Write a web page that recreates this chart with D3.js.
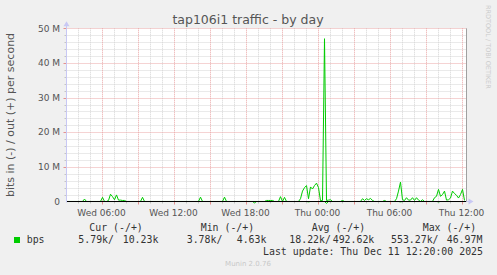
<!DOCTYPE html>
<html><head><meta charset="utf-8">
<script src="https://cdn.jsdelivr.net/npm/d3@7"></script>
<style>html,body{margin:0;padding:0;background:#f0f0f0;}svg{display:block;}</style>
</head><body><svg id="c" width="497" height="275"></svg>
<script>
// ---- data (values in Mbit/s, 10-minute steps starting Wed 2025-12-10 03:05) ----
const startTime = new Date(2025, 11, 10, 3, 5);
const endTime = new Date(2025, 11, 11, 12, 25);
const stepMinutes = 10;
const outValues = [
 0.01,0.01,0.01,0.01,0.01,0.01,0.01,0.01,0.01,0.7, 0.01,0.01,0.01,0.01,0.01,0.01,0.01,0.01,1.2,0.01,
 0.01,0.3,2.1,1.4,0.5,1.9,0.4,0.4,0.3,0.3, 0.01,0.01,0.01,0.01,0.01,0.01,0.01,0.01,1.2,0.01,
 0.01,0.01,0.01,0.01,0.01,0.01,0.01,0.01,0.01,0.01, 0.01,0.01,0.01,0.01,0.01,0.01,0.01,0.01,0.01,0.01,
 0.01,0.01,0.01,0.01,0.01,0.01,0.01,1.25,0.01,0.01, 0.01,0.01,0.01,0.01,0.01,0.01,0.01,0.01,0.01,1.25,
 0.01,0.01,0.01,0.01,0.01,0.01,0.01,0.01,0.01,0.01, 0.01,0.01,0.01,0.01,0.01,0.01,0.01,0.01,0.01,0.01,
 0.3,0.3,0.3,0.3,0.01,0.01,0.01,1.4,0.01,1.2, 0.01,0.01,0.01,0.01,0.01,0.01,0.01,0.8,3.0,4.0,
 4.6,0.8,4.2,3.6,4.6,5.3,4.0,0.2,0.3,47.0, 0.3,0.4,0.5,0.01,0.01,0.01,0.01,0.01,0.3,0.01,
 0.01,0.01,0.01,0.01,0.01,0.01,0.01,0.01,0.8,0.3, 0.8,0.5,0.9,0.3,0.01,0.01,0.01,0.01,0.01,0.3,
 0.01,0.01,0.01,0.01,0.01,0.8,3.0,5.6,0.5,0.3, 1.1,0.4,0.4,1.1,0.3,1.1,0.4,0.01,0.5,0.01,
 0.01,0.01,0.01,0.01,1.1,1.5,3.5,1.5,2.0,3.0, 0.4,0.5,1.0,3.0,2.3,1.8,1.0,2.0,3.5,0.3
];
const inBaseline = 0.005;
const inSpikeIndex = [94, 121, 130, 167, 186];
const inSpikeValue = [0.4, 0.1, 0.55, 0.1, 0.1];
const inValues = outValues.map((_, i) => {
  const k = inSpikeIndex.indexOf(i);
  return k >= 0 ? inSpikeValue[k] : inBaseline;
});

const yTicks = [0, 10, 20, 30, 40, 50];
const yTickLabels = ["0", "10 M", "20 M", "30 M", "40 M", "50 M"];
const title = "tap106i1 traffic - by day";
const yAxisTitle = "bits in (-) / out (+) per second";
const legendHeaders = ["Cur (-/+)", "Min (-/+)", "Avg (-/+)", "Max (-/+)"];
const legendValues = [["5.79k/", "10.23k"], ["3.78k/", "4.63k"], ["18.22k/", "492.62k"], ["553.27k/", "46.97M"]];
const lastUpdate = "Last update: Thu Dec 11 12:20:00 2025";

// ---- layout ----
const svg = d3.select("#c");
const L = 66.5, R = 466.5, T = 28.3, B = 201.5;
const x = d3.scaleTime().domain([startTime, endTime]).range([L, R]);
const y = d3.scaleLinear().domain([0, 50]).range([B, T]);
const times = outValues.map((_, i) => new Date(startTime.getTime() + i * stepMinutes * 60000));
const px = v => Math.round(v) + 0.5;

svg.append("rect").attr("x", L).attr("y", T).attr("width", R - L).attr("height", B - T).attr("fill", "#ffffff");

const g = svg.append("g");
const minorC = "#d4d4d4", majorC = "#eaa6a6";
const yMinor = d3.range(2, 50, 2).filter(v => v % 10 !== 0);
g.selectAll(".hmin").data(yMinor).join("line")
  .attr("x1", L).attr("x2", R).attr("y1", d => px(y(d))).attr("y2", d => px(y(d)))
  .attr("stroke", minorC).attr("stroke-dasharray", "1,1");
const hours = d3.timeHour.range(startTime, endTime);
g.selectAll(".vmin").data(hours.filter(h => h.getHours() % 3 !== 0)).join("line")
  .attr("y1", T).attr("y2", B).attr("x1", d => px(x(d))).attr("x2", d => px(x(d)))
  .attr("stroke", minorC).attr("stroke-dasharray", "1,1");
const majors = hours.filter(h => h.getHours() % 3 === 0);
g.selectAll(".vmaj").data(majors).join("line")
  .attr("y1", T).attr("y2", B).attr("x1", d => px(x(d))).attr("x2", d => px(x(d)))
  .attr("stroke", majorC).attr("stroke-dasharray", "1,1");
g.selectAll(".hmaj").data(yTicks.filter(v => v > 0)).join("line")
  .attr("x1", L).attr("x2", R).attr("y1", d => px(y(d))).attr("y2", d => px(y(d)))
  .attr("stroke", majorC).attr("stroke-dasharray", "1,1");

// ticks
g.selectAll(".xtmin").data(hours.filter(h => h.getHours() % 3 !== 0)).join("line")
  .attr("y1", B).attr("y2", B + 2).attr("x1", d => px(x(d))).attr("x2", d => px(x(d)))
  .attr("stroke", "#c4c4c4");
g.selectAll(".xtmaj").data(majors).join("line")
  .attr("y1", B).attr("y2", B + 3).attr("x1", d => px(x(d))).attr("x2", d => px(x(d)))
  .attr("stroke", "#e49090");
g.selectAll(".ytmin").data(yMinor).join("line")
  .attr("x1", L - 2).attr("x2", L).attr("y1", d => px(y(d))).attr("y2", d => px(y(d)))
  .attr("stroke", "#c4c4c4");
g.selectAll(".ytmaj").data(yTicks.filter(v => v > 0)).join("line")
  .attr("x1", L - 3).attr("x2", L).attr("y1", d => px(y(d))).attr("y2", d => px(y(d)))
  .attr("stroke", "#e49090");

// data lines
const line = d3.line().x((d, i) => x(times[i])).y(d => y(d));
svg.append("path").datum(inValues.map(v => -v)).attr("d", line)
  .attr("fill", "none").attr("stroke", "#00cc00").attr("stroke-width", 1);
svg.append("path").datum(outValues).attr("d", line)
  .attr("fill", "none").attr("stroke", "#00cc00").attr("stroke-width", 1);

// zero line, frame, axes
svg.append("line").attr("x1", L).attr("x2", R).attr("y1", y(0)).attr("y2", y(0)).attr("stroke", "#000").attr("stroke-width", 1);
svg.append("line").attr("x1", R).attr("x2", R).attr("y1", T).attr("y2", B).attr("stroke", "#a0a0a0");
svg.append("line").attr("x1", L).attr("x2", L).attr("y1", T - 3).attr("y2", B + 1).attr("stroke", "#c8c8f4");
svg.append("path").attr("d", `M${L - 3},${T - 2} L${L},${T - 7} L${L + 3},${T - 2} Z`).attr("fill", "#c8c8f4");
svg.append("line").attr("x1", R).attr("x2", R + 3).attr("y1", B).attr("y2", B).attr("stroke", "#c8c8f4");
svg.append("path").attr("d", `M${R + 2},${B - 3} L${R + 7},${B} L${R + 2},${B + 3} Z`).attr("fill", "#c8c8f4");

// labels
svg.selectAll(".yl").data(yTicks).join("text")
  .attr("x", 60).attr("y", d => y(d) + 3.2).attr("text-anchor", "end")
  .attr("font-family", "DejaVu Sans").attr("font-size", 9).attr("fill", "#555")
  .text((d, i) => yTickLabels[i]);
const labelTimes = hours.filter(h => h.getHours() % 6 === 0);
svg.selectAll(".xl").data(labelTimes).join("text")
  .attr("x", d => x(d)).attr("y", 216).attr("text-anchor", "middle")
  .attr("font-family", "DejaVu Sans").attr("font-size", 9).attr("fill", "#555")
  .text(d => d3.timeFormat("%a %H:%M")(d));

svg.append("text").attr("x", 248).attr("y", 23.5).attr("text-anchor", "middle")
  .attr("font-family", "DejaVu Sans").attr("font-size", 12.5).attr("fill", "#555").text(title);
svg.append("text").attr("transform", "translate(14,115) rotate(-90)").attr("text-anchor", "middle")
  .attr("font-family", "DejaVu Sans").attr("font-size", 11).attr("fill", "#555").text(yAxisTitle);
svg.append("text").attr("transform", "translate(486,5) rotate(90)").attr("text-anchor", "start")
  .attr("font-family", "DejaVu Sans").attr("font-size", 6.5).attr("fill", "#cccccc").text("RRDTOOL / TOBI OETIKER");

// legend
const mono = "DejaVu Sans Mono";
const hx = [89.3, 200.7, 311.7, 422.7];
svg.selectAll(".lh").data(legendHeaders).join("text")
  .attr("x", (d, i) => hx[i]).attr("y", 230.5).attr("font-family", mono).attr("font-size", 9.9).attr("fill", "#333")
  .text(d => d);
svg.append("rect").attr("x", 14).attr("y", 237).attr("width", 6).attr("height", 6).attr("fill", "#00cc00");
svg.append("text").attr("x", 26.7).attr("y", 242.5).attr("font-family", mono).attr("font-size", 9.9).attr("fill", "#333").text("bps");
const vx = [[78.3, 122.7], [186.7, 236.7], [289.3, 332.7], [391, 446.7]];
legendValues.forEach((pair, i) => {
  pair.forEach((t, j) => {
    svg.append("text").attr("x", vx[i][j]).attr("y", 242.5).attr("font-family", mono).attr("font-size", 9.9).attr("fill", "#333").text(t);
  });
});
svg.append("text").attr("x", 483).attr("y", 254.5).attr("text-anchor", "end").attr("font-family", mono).attr("font-size", 9.9).attr("fill", "#333").text(lastUpdate);
svg.append("text").attr("x", 248).attr("y", 266).attr("text-anchor", "middle").attr("font-family", "DejaVu Sans").attr("font-size", 7).attr("fill", "#c8c8c8").text("Munin 2.0.76");
</script></body></html>
